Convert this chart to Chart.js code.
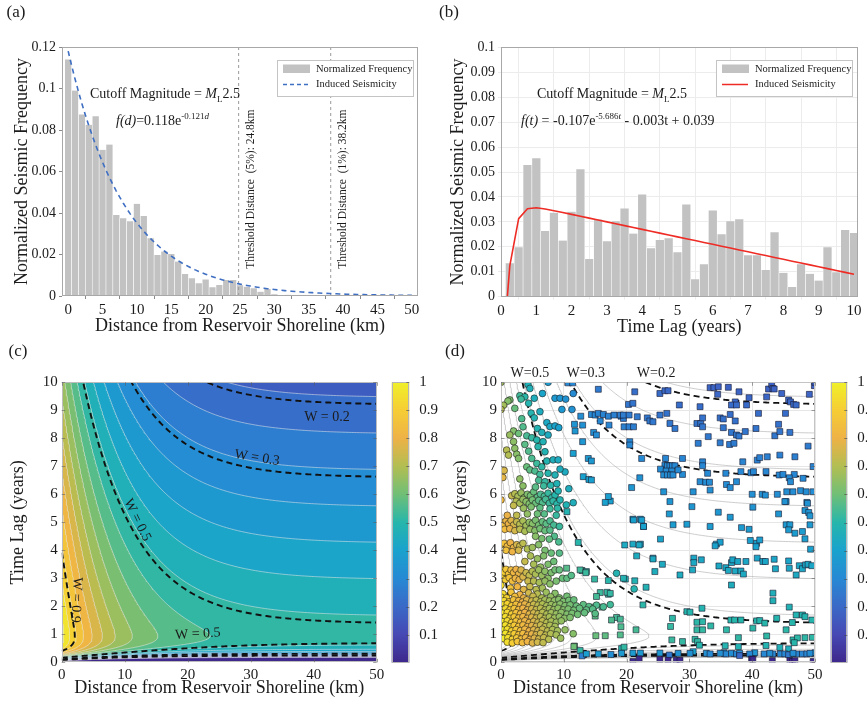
<!DOCTYPE html>
<html>
<head>
<meta charset="utf-8">
<title>Reservoir-induced seismicity: distance and time-lag weighting</title>
<script src="https://cdn.jsdelivr.net/npm/chart.js@4.4.1/dist/chart.umd.min.js"></script>
<style>
  html, body { margin: 0; padding: 0; background: #ffffff; }
  #page { position: relative; width: 867px; height: 703px; overflow: hidden; background: #fff; }
  #page canvas { position: absolute; left: 0; top: 0; }
</style>
</head>
<body>
<div id="page">
  <canvas id="histDist" width="867" height="703"></canvas>
  <canvas id="histLag" width="867" height="703"></canvas>
  <canvas id="mapW" width="867" height="703"></canvas>
  <canvas id="barW" width="867" height="703"></canvas>
  <canvas id="mapEvents" width="867" height="703"></canvas>
  <canvas id="barEvents" width="867" height="703"></canvas>
</div>
<script>
// ---------------- (a) frequency vs distance from shoreline ----------------
const distBins = [0,1,2,3,4,5,6,7,8,9,10,11,12,13,14,15,16,17,18,19,20,21,22,23,24,25,26,27,28,29,30,31,32,33,34,35];
const distFreq = [0.114,0.099,0.0875,0.0825,0.0866,0.0705,0.073,0.039,0.0375,0.036,0.0444,0.0386,0.0278,0.0198,0.0214,0.0203,
                  0.0166,0.0106,0.0085,0.0061,0.008,0.0042,0.0053,0.0077,0.0077,0.0052,0.0045,0.0037,0.0021,0.0034,0.0008,0.0003,
                  0.0006,0.0005,0,0];
const distTicks = [0,5,10,15,20,25,30,35,40,45,50];
const distFreqTicks = [0,0.02,0.04,0.06,0.08,0.1,0.12];
const distFit = [0.118, 0.121];                 // f(d) = 0.118 e^(-0.121 d)
const thresholdDist = [24.8, 38.2];
const thresholdText = ['Threshold Distance  (5%): 24.8km', 'Threshold Distance  (1%): 38.2km'];

// ---------------- (b) frequency vs time lag ----------------
const lagBins = [0.25,0.5,0.75,1,1.25,1.5,1.75,2,2.25,2.5,2.75,3,3.25,3.5,3.75,4,4.25,4.5,4.75,5,
                 5.25,5.5,5.75,6,6.25,6.5,6.75,7,7.25,7.5,7.75,8,8.25,8.5,8.75,9,9.25,9.5,9.75,10];
const lagFreq = [0.0134,0.0198,0.0528,0.0555,0.0263,0.0337,0.0225,0.0341,0.0511,0.0151,0.031,0.0222,0.0303,0.0354,0.0253,0.041,
                 0.0194,0.0227,0.0234,0.0178,0.037,0.007,0.013,0.0346,0.025,0.0303,0.0311,0.0166,0.0166,0.0107,0.0258,0.0096,
                 0.0039,0.013,0.0092,0.0065,0.0198,0.0098,0.0267,0.0255];
const lagTicks = [0,1,2,3,4,5,6,7,8,9,10];
const lagFreqTicks = [0,0.01,0.02,0.03,0.04,0.05,0.06,0.07,0.08,0.09,0.1];
const lagFit = [-0.107, 5.686, -0.003, 0.039];  // f(t) = -0.107 e^(-5.686 t) - 0.003 t + 0.039

// ---------------- (c)/(d) weighting index W(d, t) ----------------
const W_SPLIT = [0.5, 0.5];                     // distance share, time-lag share
const LAG_SPAN = [-0.0042, 0.0348];             // f(t) values mapped to 0 and 1
const mapDistTicks = [0,10,20,30,40,50];
const mapLagTicks = [0,1,2,3,4,5,6,7,8,9,10];
const colorbarTicks = [0.1,0.2,0.3,0.4,0.5,0.6,0.7,0.8,0.9,1];
const thinLevels = [0.04,0.09,0.14,0.19,0.24,0.29,0.34,0.39,0.44,0.49,0.54,0.59,0.64,0.69,0.74,0.79,0.84,0.89,0.94,0.99];
const keyLevels = [0.2,0.3,0.5,0.9];

// earthquakes plotted in (d): [distance km, time lag years]
const nearFieldEvents = [
 [0,10],[4.3,9.92],[4.6,9.78],[7.5,10],[6.6,9.6],[3.0,9.52],[3.8,9.48],[3.2,9.4],[1.4,9.37],[1.1,9.33],[0.4,9.18],[0,9.03],
 [2.2,9.07],[5.3,9.43],[4.4,9.25],[8.6,9.43],[9.4,9.43],[10.3,9.4],[9.7,9.03],[11.3,9.03],[11.5,9.6],[4.8,8.9],[6.2,8.95],
 [3.3,8.7],[5.3,8.73],[7.3,8.56],[7.8,8.42],[8.6,8.44],[9.2,8.38],[5.8,8.35],[6.5,8.21],[3.5,8.41],[2.0,8.26],[1.4,8.12],
 [2.8,8.17],[4.1,8.09],[4.9,8.02],[5.7,7.94],[6.7,7.88],[7.5,8.12],[2.0,7.88],[2.2,7.64],[3.8,7.78],[4.4,7.54],[5.9,7.7],
 [7.0,7.52],[2.5,7.43],[2.8,7.28],[4.9,7.28],[5.7,7.1],[6.5,6.98],[7.3,7.19],[8.3,7.23],[9.1,7.23],[4.1,6.98],[4.6,6.87],
 [5.4,6.83],[6.2,6.71],[7.5,6.75],[8.6,6.69],[10.2,6.8],[0.9,7.58],[1.2,7.4],[0.3,6.6],[0.5,6.85],[6.0,6.5],[7.0,6.45],
 [3.0,6.55],[9.4,6.9],
 [0,5.8],[1.7,5.95],[2.2,6.02],[2.7,5.93],[3.2,6.05],[3.7,5.88],[4.2,6.0],[4.7,5.95],[5.2,6.09],[5.8,5.9],[6.3,6.0],[6.9,5.93],
 [7.5,6.04],[8.1,5.88],[8.6,5.97],[9.1,6.12],[2.4,5.75],[3.0,5.68],[3.5,5.82],[4.0,5.74],[4.5,5.66],[5.0,5.8],[5.5,5.68],[6.0,5.78],
 [6.6,5.7],[7.1,5.82],[7.7,5.68],[8.3,5.76],[8.9,5.66],[9.4,5.8],[11.5,5.7],[10.4,5.62],[6.8,6.3],[7.9,6.32],[8.9,6.38],[3.5,6.3],
 [5.5,6.26],[4.8,5.55],[6.2,5.52],[7.8,5.48],[9.0,5.5],[10.8,6.2],[2.0,5.6],[3.6,5.5],
 [0,5.0],[0.4,4.88],[0.8,5.05],[1.2,4.95],[1.6,5.07],[2.0,4.9],[2.5,5.02],[3.0,4.93],[3.5,5.05],[4.0,4.88],[4.5,5.0],[5.0,4.95],
 [5.5,5.07],[6.0,4.9],[6.6,5.02],[7.2,4.95],[7.8,5.05],[8.4,4.9],[0.6,4.75],[1.4,4.77],[2.2,4.7],[3.0,4.75],[3.8,4.68],[4.6,4.75],
 [5.4,4.7],[6.2,4.77],[7.0,4.7],[7.8,4.72],[1.0,5.25],[2.5,5.25],[4.2,5.3],[5.8,5.3],[6.9,5.3],[8.8,5.25],[9.3,4.85],[8.5,4.5],
 [9.2,4.3],[7.7,4.4],[6.5,4.42],[5.5,4.5],
 [0,4.2],[0.5,4.25],[1.0,4.15],[1.5,4.27],[2.0,4.1],[2.5,4.2],[3.0,4.15],[3.5,4.25],[0.8,4.0],[1.8,3.95],[2.8,4.0],[4.2,4.05],
 [5.0,4.1],[6.0,4.2],[7.0,4.0],[4.7,3.8],[5.8,3.7],[6.8,3.8],[8.0,3.9],[3.8,3.6],[5.2,3.5],[6.3,3.4],[7.5,3.5],[8.4,3.6],[9.3,3.9],
 [0,3.3],[0.4,3.2],[0.8,3.32],[1.2,3.15],[1.6,3.3],[2.0,3.2],[2.4,3.32],[2.8,3.15],[3.2,3.3],[0.2,3.0],[0.7,2.95],[1.3,3.02],
 [1.8,2.9],[2.3,3.0],[2.9,2.95],[3.5,3.05],[4.0,3.2],[4.5,3.1],[5.0,3.25],[5.5,3.15],[6.0,3.3],[6.5,3.1],[7.0,3.25],[7.5,3.0],
 [8.0,3.2],[8.6,3.3],[9.3,3.3],[4.3,2.9],[5.2,2.9],[6.1,2.85],[7.0,2.9],[7.8,2.8],[8.8,2.9],[9.8,3.0],[10.5,3.0],[11.2,3.1],
 [0,2.75],[2.6,2.7],[4.6,2.7],[5.6,2.6],[6.6,2.65],[3.6,2.6],[1.5,2.65],[18.4,3.18],[21.2,2.62],
 [0.3,2.45],[1.6,2.5],[3.0,2.42],[4.4,2.48],[5.8,2.44],[7.2,2.5],[8.6,2.46],
 [0,2.33],[0.9,2.3],[2.2,2.35],[3.6,2.3],[5.1,2.36],[6.5,2.3],[7.9,2.34],[9.3,2.3],[10.5,2.36],
 [0.5,2.2],[1.3,2.16],[2.0,2.23],[2.8,2.2],[3.4,2.15],[4.1,2.23],[4.9,2.19],[5.6,2.22],[6.3,2.16],[7.0,2.23],[7.7,2.19],
 [8.5,2.2],[9.2,2.24],[9.9,2.17],[10.8,2.21],[11.6,2.23],
 [0.3,2.05],[1.0,2.09],[1.7,2.02],[2.4,2.07],[3.1,2.03],[3.8,2.08],[4.5,2.02],[5.2,2.07],[5.9,2.04],[6.6,2.08],[7.3,2.02],
 [8.0,2.06],[8.7,2.03],[9.4,2.08],[10.2,2.02],[11.0,2.05],[12.0,2.01],[13.1,2.06],[14.0,1.99],[15.2,2.04],[16.3,1.98],[17.4,2.06],
 [0,1.9],[0.7,1.93],[1.4,1.87],[2.1,1.92],[2.8,1.88],[3.5,1.93],[4.2,1.87],[4.9,1.91],[5.6,1.88],[6.3,1.93],[7.0,1.87],
 [7.7,1.92],[8.4,1.88],[9.1,1.93],[9.9,1.87],[10.7,1.9],[11.6,1.86],[12.5,1.93],[13.6,1.87],[14.6,1.9],
 [0.3,1.75],[1.0,1.78],[1.7,1.72],[2.4,1.77],[3.1,1.73],[3.8,1.78],[4.5,1.72],[5.2,1.76],[5.9,1.73],[6.6,1.78],[7.3,1.72],
 [8.0,1.77],[8.8,1.73],[9.6,1.78],[10.5,1.72],[11.3,1.75],[12.2,1.71],[13.3,1.77],[15.0,1.74],
 [0,1.6],[0.7,1.63],[1.4,1.57],[2.1,1.62],[2.8,1.58],[3.5,1.63],[4.2,1.57],[4.9,1.61],[5.6,1.58],[6.3,1.63],[7.0,1.57],
 [7.7,1.62],[8.5,1.58],[9.3,1.63],[10.1,1.57],[11.0,1.6],
 [0.3,1.45],[1.0,1.48],[1.7,1.42],[2.4,1.47],[3.1,1.43],[3.8,1.48],[4.5,1.42],[5.2,1.46],[5.9,1.43],[6.6,1.48],[7.3,1.42],
 [8.0,1.47],[8.8,1.43],[9.6,1.48],
 [0,1.3],[0.7,1.33],[1.4,1.27],[2.1,1.32],[2.8,1.28],[3.5,1.33],[4.2,1.27],[4.9,1.31],[5.6,1.28],[6.3,1.33],[7.0,1.27],
 [7.8,1.32],[8.6,1.28],
 [0.3,1.15],[1.0,1.18],[1.7,1.12],[2.4,1.17],[3.1,1.13],[3.8,1.18],[4.5,1.12],[5.2,1.16],[5.9,1.13],[6.6,1.18],[7.4,1.12],
 [8.2,1.17],[9.0,1.13],[10.2,1.16],
 [0,1.0],[0.7,1.03],[1.4,0.97],[2.1,1.02],[2.8,0.98],[3.5,1.03],[4.2,0.97],[4.9,1.01],[5.6,0.98],[6.3,1.03],[7.1,0.97],
 [7.9,1.02],[8.8,0.98],[11.5,1.02],
 [0.4,0.85],[1.1,0.88],[1.8,0.82],[2.5,0.87],[3.2,0.83],[3.9,0.88],[4.6,0.82],[5.3,0.86],[6.0,0.83],[6.8,0.88],[7.6,0.82],[9.5,0.86],
 [1.0,0.72],[1.8,0.69],[2.6,0.74],[3.4,0.7],[4.2,0.74],[5.0,0.69],[5.8,0.72],[6.7,0.7]
];
const farFieldEvents = [
 [10.7,9.98],[11.4,9.98],[15.5,9.75],[12.7,8.79],[14.4,8.85],[15.0,8.83],[15.5,8.89],[16.3,8.85],[17.1,8.79],[18.0,8.83],
 [19.1,8.79],[19.5,8.71],[11.7,8.5],[13.0,8.47],[15.8,8.62],[17.2,8.47],[11.8,8.26],[14.75,8.21],[15.2,8.12],[13.0,7.88],
 [11.5,7.46],[13.9,7.28],[14.4,7.19],[13.1,6.63],[14.0,6.53],[14.4,6.51],
 [21.3,9.66],[25.3,9.6],[26.1,9.7],[26.6,9.7],[28.4,9.19],[31.7,9.13],[33.3,9.81],[33.9,9.81],[34.6,9.84],[36.2,9.82],
 [34.5,9.57],[37.9,9.66],[37.3,9.3],[36.7,9.19],[37.5,9.19],[39.5,9.45],[39.1,9.19],[41.0,8.89],[42.3,9.48],[42.6,9.76],
 [43.1,9.93],[43.3,9.78],[43.5,9.76],[44.7,9.6],[45.8,9.37],[46.1,9.3],[46.6,9.21],[47.0,9.19],[45.3,8.89],[49.1,9.57],
 [49.9,9.88],[50,10.0],
 [19.0,8.83],[19.5,8.83],[20.4,8.83],[20.3,9.21],[21.0,9.25],[19.6,8.41],[20.4,8.41],[21.1,8.41],[21.7,8.77],[23.3,8.73],
 [23.7,8.62],[24.2,8.59],[25.3,8.83],[26.4,8.89],[26.9,8.53],[27.7,8.35],[31.2,8.53],[31.8,8.53],[32.1,8.41],[32.1,8.73],
 [34.9,8.73],[35.4,8.69],[36.5,8.85],[37.3,8.62],[35.4,8.38],[36.7,8.21],[37.5,8.12],[37.9,8.08],[38.9,8.24],[40.6,8.35],
 [33.0,8.06],[31.4,7.82],[34.9,7.84],[36.4,7.78],[37.1,7.82],[44.2,8.5],[43.6,8.09],[44.4,8.24],[46.0,8.21],[48.9,7.72],
 [20.5,7.88],[20.5,7.76],[22.4,7.28],[26.2,7.28],[28.9,7.28],
 [26.1,7.04],[26.5,7.02],[26.9,7.02],[27.3,7.02],[27.7,7.02],[25.4,6.9],[26.3,6.83],[27.2,6.83],[25.9,6.69],[26.5,6.69],
 [27.0,6.69],[27.4,6.69],[28.9,6.71],[28.2,6.87],[22.1,6.59],[32.1,7.16],[32.1,7.02],[32.9,6.75],[31.7,6.45],[32.6,6.43],
 [33.2,6.43],[35.8,6.75],[35.9,6.35],[36.5,6.24],[37.5,6.45],[38.2,6.81],[38.5,7.16],[39.8,6.77],[40.2,6.81],[40.8,7.22],
 [41.2,7.31],[42.2,6.81],[42.4,7.34],[44.4,7.4],[44.3,6.69],[44.9,6.71],[46.7,6.71],[45.9,6.59],[46.1,6.45],[48.1,6.57],
 [46.8,7.34],[49.7,6.99],[20.8,6.24],[25.9,6.09],[30.6,6.09],[33.3,6.15],[40.0,6.0],[41.6,6.0],[42.1,5.97],[44.0,6.0],
 [45.5,6.09],[46.5,6.09],[47.7,6.13],[48.6,6.09],[49.7,6.09],[45.4,5.74],[48.7,5.71],[26.9,5.74],[17.4,5.76],[16.6,5.71],[17.1,5.92],
 [30.4,5.56],[40.1,5.54],[45.2,5.74],[48.8,5.68],[26.8,5.3],[34.6,5.36],[36.5,5.18],[44.2,5.3],[48.4,5.42],[49.0,5.35],
 [49.2,5.23],[21.0,5.11],[22.2,5.11],[22.7,4.85],[27.4,4.91],[29.6,4.93],[33.3,4.85],[38.3,4.81],[39.5,4.75],[45.4,4.91],
 [46.0,4.91],[45.8,4.73],[46.8,4.61],[48.0,4.67],[49.2,4.91],[25.4,4.4],[21.0,4.22],[22.2,4.22],[34.3,4.22],[34.9,4.29],
 [34.1,4.16],[39.7,4.35],[40.7,4.25],[40.6,4.13],[41.2,4.37],[48.4,4.41],[49.3,4.04],[21.6,3.8],[24.2,3.72],[25.7,3.5],
 [24.5,3.24],[28.5,3.12],[30.5,3.3],[30.7,3.72],[30.7,3.56],[31.9,3.66],[34.7,3.44],[35.8,3.38],[36.2,3.28],[36.7,3.56],
 [36.9,3.66],[37.7,3.6],[39.0,3.6],[37.3,3.26],[38.2,3.26],[38.6,3.15],[40.8,3.72],[41.7,3.6],[42.1,3.6],[43.5,3.68],
 [43.7,3.34],[45.8,3.62],[45.9,3.36],[47.0,3.12],[47.5,3.45],[48.0,3.34],[48.5,3.48],[48.9,3.5],[49.5,3.45],[19.8,2.97],
 [21.3,2.91],[23.1,2.68],[36.7,2.76],[43.3,2.47],[43.3,2.2],[45.9,1.97],[10.5,5.38],[12.3,4.28],[10.45,3.36],[12.9,3.28],
 [13.6,3.24],[14.9,2.97],[15.8,2.49],[17.1,2.43],[19.5,3.0],[12.6,3.3],[13.5,3.2],[17.1,2.92],[16.9,2.5],[17.4,2.46],
 [15.2,2.35],[22.6,2.05],[21.1,5.08],[22.4,5.08],[19.7,4.19],[22.0,4.19],[24.2,3.69],[22.7,4.85],
 [32.0,1.93],[29.6,1.81],[30.1,1.79],[27.3,1.57],[27.0,1.28],[31.2,1.43],[32.1,1.45],[33.4,1.3],[31.2,1.16],[32.1,1.16],
 [35.9,1.16],[36.6,1.51],[37.2,1.51],[38.2,1.51],[40.7,1.48],[41.2,1.49],[42.0,1.4],[43.9,1.57],[40.1,1.22],[45.4,1.16],
 [46.4,1.42],[48.0,1.69],[48.4,1.63],[47.0,1.69],[49.5,1.51],[21.5,1.16],[19.0,0.98],[27.2,0.8],[28.9,0.74],[30.9,0.82],
 [31.3,0.74],[37.8,0.88],[42.3,0.94],[46.5,0.8],[47.2,0.87],[48.4,0.88],[49.6,0.89],[31.6,0.61],[35.7,0.59],[37.8,0.56],
 [42.2,0.6],[44.4,0.53],[45.8,0.48],[46.7,0.7],[19.2,0.49],[15.0,1.65],[18.4,1.6],[19.1,1.27],[15.1,0.95],[16.6,0.95],
 [11.7,0.58],[12.6,0.42],[19.6,0.54],[17.6,1.51],[19.0,1.54],[11.6,0.56],[14.7,1.97],[16.1,1.97],
 [21.0,0.33],[22.2,0.33],[25.3,0.33],[26.8,0.26],[30.6,0.38],[35.5,0.34],[35.8,0.3],[40.4,0.34],[41.9,0.3],[43.3,0.3],
 [44.5,0.3],[45.2,0.3],[45.8,0.27],[47.1,0.3],[48.0,0.3],[50.0,0.34],[28.2,0.32],[30.1,0.32],[32.7,0.32],[33.3,0.3],
 [34.9,0.32],[36.7,0.32],[37.5,0.3],[38.0,0.32],[39.6,0.3],[42.8,0.32],[46.5,0.32],[48.7,0.3],[49.2,0.32],[12.9,0.23],
 [13.6,0.3],[15.5,0.3],[17.5,0.28],[19.2,0.32],
 [21.0,0.03],[22.0,0.12],[25.3,0.1],[26.6,0.07],[27.9,0.07],[28.5,0.07],[38.0,0.24],[39.9,0.12],[43.2,0.06],[46.0,0.06],
 [46.4,0.03],[46.8,0.06],[49.7,0.03],[40.1,0.1]
];

// colour scale for the weighting index (stop, r, g, b)
const colorStops = [
 [0.00, 62, 40,140],[0.10, 70, 72,180],[0.20, 58,105,200],[0.30, 38,137,212],[0.40, 25,162,205],[0.50, 38,182,172],
 [0.60,112,191,118],[0.70,178,190, 82],[0.80,238,178, 70],[0.90,246,205, 52],[1.00,240,240, 40]
];

// ---------------- helpers ----------------
const SERIF = "'Liberation Serif', 'Times New Roman', Times, serif";
const INK = '#1b1b1b';
Chart.defaults.font.family = SERIF;
Chart.defaults.color = INK;

function cmapRGB(v) {
  v = Math.max(0, Math.min(1, v));
  for (let i = 1; i < colorStops.length; i++) {
    if (v <= colorStops[i][0]) {
      const a = colorStops[i - 1], b = colorStops[i];
      const f = (v - a[0]) / (b[0] - a[0]);
      return [1, 2, 3].map(k => Math.round(a[k] + (b[k] - a[k]) * f));
    }
  }
  return colorStops[colorStops.length - 1].slice(1);
}
const cmapCss = v => { const c = cmapRGB(v); return `rgb(${c[0]},${c[1]},${c[2]})`; };

const fDist = d => distFit[0] * Math.exp(-distFit[1] * d);
const fLag = t => lagFit[0] * Math.exp(-lagFit[1] * t) + lagFit[2] * t + lagFit[3];
const lagTerm = t => (fLag(t) - LAG_SPAN[0]) / (LAG_SPAN[1] - LAG_SPAN[0]);
const wIndex = (d, t) => W_SPLIT[0] * Math.exp(-distFit[1] * d) + W_SPLIT[1] * lagTerm(t);

// colour of the filled band a value falls in
function bandValue(w) {
  if (w < thinLevels[0]) return w < 0 ? 0 : thinLevels[0] / 2;
  const step = thinLevels[1] - thinLevels[0];
  const k = Math.floor((w - thinLevels[0]) / step);
  return Math.min(1, thinLevels[0] + (k + 0.5) * step);
}

// iso-lines of W: for every time lag solve the distance where W equals the level
function contourPaths(level) {
  const paths = [];
  let cur = null, last = null, pend = null;
  const close = () => {
    if (cur) { if (pend && pend !== last) cur.push(pend); if (cur.length > 1) paths.push(cur); }
    cur = last = pend = null;
  };
  for (let i = 0; i <= 50000; i++) {
    const t = i * 0.0002;
    const r = (level - W_SPLIT[1] * lagTerm(t)) / W_SPLIT[0];
    if (!(r > 0 && r <= 1)) { close(); continue; }
    const d = -Math.log(r) / distFit[1];
    if (d > 70) { close(); continue; }
    const p = {x: d, y: t};
    if (!cur) { cur = [p]; last = p; pend = null; continue; }
    const dx = (d - last.x) * 6.3, dy = (t - last.y) * 28;
    if (dx * dx + dy * dy >= 2) { cur.push(p); last = p; pend = null; } else pend = p;
  }
  close();
  return paths;
}
const thinPaths = thinLevels.map(contourPaths);
const keyPaths = keyLevels.map(contourPaths);

function lineSets(pathsList, style) {
  const out = [];
  pathsList.forEach(paths => paths.forEach(p => out.push(Object.assign({
    type: 'scatter', data: p, showLine: true, pointRadius: 0, pointHoverRadius: 0, fill: false, tension: 0,
    parsing: false
  }, style))));
  return out;
}

function richText(ctx, x, y, parts, size) {
  ctx.save();
  ctx.textBaseline = 'alphabetic';
  ctx.fillStyle = INK;
  let cx = x;
  for (const p of parts) {
    const s = (p.sub || p.sup) ? size * 0.64 : size;
    ctx.font = `${p.i ? 'italic ' : ''}${s}px ${SERIF}`;
    const dy = p.sub ? size * 0.28 : (p.sup ? -size * 0.42 : 0);
    ctx.fillText(p.t, cx, y + dy);
    cx += ctx.measureText(p.t).width;
  }
  ctx.restore();
}

function text(ctx, str, x, y, size, opts = {}) {
  ctx.save();
  ctx.translate(x, y);
  if (opts.rot) ctx.rotate(opts.rot * Math.PI / 180);
  ctx.font = `${opts.italic ? 'italic ' : ''}${size}px ${SERIF}`;
  ctx.fillStyle = opts.color || INK;
  ctx.textAlign = opts.align || 'center';
  ctx.textBaseline = 'middle';
  ctx.fillText(str, 0, 0);
  ctx.restore();
}

function fixedTicks(list) { return s => { s.ticks = list.map(v => ({value: v})); }; }
const fmt = v => String(Math.round(v * 1000) / 1000);

function frame(color, inward) {
  return {
    id: 'frame',
    afterDraw(chart) {
      const {ctx, chartArea: a, scales} = chart;
      ctx.save();
      ctx.strokeStyle = color;
      ctx.lineWidth = 1;
      ctx.strokeRect(Math.round(a.left) + 0.5, Math.round(a.top) + 0.5,
                     Math.round(a.right) - Math.round(a.left) - 1, Math.round(a.bottom) - Math.round(a.top) - 1);
      if (inward) {
        ctx.strokeStyle = 'rgba(90,90,90,0.55)';
        ctx.beginPath();
        scales.x.ticks.forEach(t => {
          const px = Math.round(scales.x.getPixelForValue(t.value)) + 0.5;
          ctx.moveTo(px, a.bottom); ctx.lineTo(px, a.bottom - 3.5);
          ctx.moveTo(px, a.top); ctx.lineTo(px, a.top + 3.5);
        });
        scales.y.ticks.forEach(t => {
          const py = Math.round(scales.y.getPixelForValue(t.value)) + 0.5;
          ctx.moveTo(a.left, py); ctx.lineTo(a.left + 3.5, py);
          ctx.moveTo(a.right, py); ctx.lineTo(a.right - 3.5, py);
        });
        ctx.stroke();
      }
      ctx.restore();
    }
  };
}

function legendBox(ctx, x, y, entries) {
  ctx.save();
  ctx.fillStyle = '#fff';
  ctx.fillRect(x, y, 136, 36);
  ctx.strokeStyle = '#c4c4c4';
  ctx.lineWidth = 1;
  ctx.strokeRect(x + 0.5, y + 0.5, 136, 36);
  entries.forEach((e, i) => {
    const cy = y + 9 + i * 15;
    if (e.kind === 'bar') {
      ctx.fillStyle = e.color;
      ctx.fillRect(x + 6, cy - 4.5, 27, 8.5);
    } else {
      ctx.strokeStyle = e.color;
      ctx.lineWidth = 1.5;
      ctx.setLineDash(e.dash || []);
      ctx.beginPath(); ctx.moveTo(x + 6, cy + 0.5); ctx.lineTo(x + 32, cy + 0.5); ctx.stroke();
      ctx.setLineDash([]);
    }
    ctx.fillStyle = INK;
    ctx.font = `10.5px ${SERIF}`;
    ctx.textBaseline = 'middle';
    ctx.textAlign = 'left';
    ctx.fillText(e.label, x + 39, cy + 0.5);
  });
  ctx.restore();
}

const baseOptions = () => ({
  responsive: false, animation: false, devicePixelRatio: 1, events: [],
  plugins: {legend: {display: false}, tooltip: {enabled: false}}
});

const tickFont = {size: 15, family: SERIF};
const freqTickFont = {size: 14, family: SERIF};
const titleFont = {size: 18, family: SERIF};

// ---------------- chart (a) ----------------
const distCurve = [];
for (let d = 0; d <= 50.0001; d += 0.5) distCurve.push({x: d, y: fDist(d)});

new Chart(document.getElementById('histDist'), {
  type: 'bar',
  data: {
    datasets: [
      {type: 'line', data: distCurve, borderColor: '#3f6fc2', borderWidth: 1.6, borderDash: [5, 4],
       pointRadius: 0, fill: false, order: 0},
      ...thresholdDist.map(v => ({type: 'line', data: [{x: v, y: 0}, {x: v, y: 0.12}], borderColor: '#9a9a9a',
       borderWidth: 1, borderDash: [3, 3], pointRadius: 0, fill: false, order: 1})),
      {type: 'bar', data: distBins.map((x, i) => ({x, y: distFreq[i]})), backgroundColor: '#c2c2c2',
       borderColor: 'rgba(255,255,255,0.85)', borderWidth: {left: 0.6, right: 0.6, top: 0, bottom: 0},
       borderSkipped: false, barPercentage: 1, categoryPercentage: 1, order: 2}
    ]
  },
  options: Object.assign(baseOptions(), {
    layout: {padding: {left: 11, top: 47, right: 449, bottom: 366.2}},
    scales: {
      x: {type: 'linear', min: -0.9, max: 50.9, offset: false,
          afterBuildTicks: fixedTicks(distTicks),
          afterFit: s => { s.height = 40.8; s.paddingLeft = 0; s.paddingRight = 0; },
          grid: {display: true, drawOnChartArea: false, drawTicks: true, tickLength: 3, color: '#8a8a8a'},
          border: {display: false},
          ticks: {font: tickFont, color: INK, padding: 2, maxRotation: 0, autoSkip: false, callback: fmt},
          title: {display: true, text: 'Distance from Reservoir Shoreline (km)', font: titleFont, color: INK, padding: 0}},
      y: {type: 'linear', min: 0, max: 0.12,
          afterBuildTicks: fixedTicks(distFreqTicks),
          afterFit: s => { s.width = 51; s.paddingTop = 0; s.paddingBottom = 0; },
          grid: {display: true, drawOnChartArea: false, drawTicks: true, tickLength: 3, color: '#8a8a8a'},
          border: {display: false},
          ticks: {font: freqTickFont, color: INK, padding: 3, autoSkip: false, callback: fmt},
          title: {display: true, text: 'Normalized Seismic Frequency', font: titleFont, color: INK, padding: 0}}
    }
  }),
  plugins: [frame('#a8a8a8', false), {
    id: 'notesA',
    afterDraw(chart) {
      const {ctx, scales: {x, y}} = chart;
      text(ctx, '(a)', 16, 13, 17);
      text(ctx, '(c)', 18, 352, 17);
      thresholdDist.forEach((v, i) => {
        text(ctx, thresholdText[i], x.getPixelForValue(v) + 12, y.getPixelForValue(0.0515), 11.5, {rot: -90});
      });
      richText(ctx, 90, 98, [{t: 'Cutoff Magnitude = '}, {t: 'M', i: true}, {t: 'L', sub: true}, {t: '2.5'}], 14);
      richText(ctx, 116, 125, [{t: 'f(d)', i: true}, {t: '=0.118e'}, {t: '-0.121', sup: true}, {t: 'd', sup: true, i: true}], 14);
      legendBox(ctx, 277, 60, [
        {kind: 'bar', color: '#c2c2c2', label: 'Normalized Frequency'},
        {kind: 'line', color: '#3f6fc2', dash: [4, 3], label: 'Induced Seismicity'}
      ]);
    }
  }]
});

// ---------------- chart (b) ----------------
let lagRoot = 0.05, hi = 1;
for (let k = 0; k < 60; k++) { const m = (lagRoot + hi) / 2; if (fLag(m) < 0) lagRoot = m; else hi = m; }
const lagCurve = [{x: lagRoot, y: 0}, ...lagBins.map(t => ({x: t, y: fLag(t)}))];

new Chart(document.getElementById('histLag'), {
  type: 'bar',
  data: {
    datasets: [
      {type: 'line', data: lagCurve, borderColor: '#ee2b24', borderWidth: 1.6, pointRadius: 0, fill: false, order: 0},
      {type: 'bar', data: lagBins.map((x, i) => ({x, y: lagFreq[i]})), backgroundColor: '#c2c2c2',
       borderColor: 'rgba(255,255,255,0.85)', borderWidth: {left: 0.6, right: 0.6, top: 0, bottom: 0},
       borderSkipped: false, barPercentage: 1, categoryPercentage: 1, order: 1}
    ]
  },
  options: Object.assign(baseOptions(), {
    layout: {padding: {left: 447, top: 47.3, right: 9.5, bottom: 365.3}},
    scales: {
      x: {type: 'linear', min: 0, max: 10.1, offset: false,
          afterBuildTicks: fixedTicks(lagTicks),
          afterFit: s => { s.height = 41; s.paddingLeft = 0; s.paddingRight = 0; },
          grid: {display: true, drawOnChartArea: true, drawTicks: true, tickLength: 3, color: '#ececec'},
          border: {display: false},
          ticks: {font: tickFont, color: INK, padding: 2, maxRotation: 0, autoSkip: false, callback: fmt},
          title: {display: true, text: 'Time Lag (years)', font: titleFont, color: INK, padding: 0}},
      y: {type: 'linear', min: 0, max: 0.1,
          afterBuildTicks: fixedTicks(lagFreqTicks),
          afterFit: s => { s.width = 54; s.paddingTop = 0; s.paddingBottom = 0; },
          grid: {display: true, drawOnChartArea: true, drawTicks: true, tickLength: 3, color: '#ececec'},
          border: {display: false},
          ticks: {font: freqTickFont, color: INK, padding: 3, autoSkip: false, callback: fmt},
          title: {display: true, text: 'Normalized Seismic Frequency', font: titleFont, color: INK, padding: 0}}
    }
  }),
  plugins: [frame('#a8a8a8', false), {
    id: 'notesB',
    afterDraw(chart) {
      const {ctx} = chart;
      text(ctx, '(b)', 449, 13, 17);
      text(ctx, '(d)', 455, 352, 17);
      richText(ctx, 537, 98, [{t: 'Cutoff Magnitude = '}, {t: 'M', i: true}, {t: 'L', sub: true}, {t: '2.5'}], 14);
      richText(ctx, 521, 125, [{t: 'f(t)', i: true}, {t: ' = -0.107e'}, {t: '-5.686', sup: true}, {t: 't', sup: true, i: true},
                               {t: ' - 0.003t + 0.039'}], 14);
      legendBox(ctx, 716, 60, [
        {kind: 'bar', color: '#c2c2c2', label: 'Normalized Frequency'},
        {kind: 'line', color: '#ee2b24', label: 'Induced Seismicity'}
      ]);
    }
  }]
});

// ---------------- chart (c) ----------------
const fieldFill = {
  id: 'fieldFill',
  beforeDatasetsDraw(chart) {
    const {ctx, chartArea: a, scales: {x, y}} = chart;
    const x0 = Math.round(a.left), y0 = Math.round(a.top);
    const w = Math.round(a.right) - x0, h = Math.round(a.bottom) - y0;
    const img = ctx.createImageData(w, h);
    const eD = [];
    for (let i = 0; i < w; i++) eD.push(Math.exp(-distFit[1] * x.getValueForPixel(x0 + i + 0.5)));
    for (let j = 0; j < h; j++) {
      const lt = W_SPLIT[1] * lagTerm(y.getValueForPixel(y0 + j + 0.5));
      for (let i = 0; i < w; i++) {
        const c = cmapRGB(bandValue(W_SPLIT[0] * eD[i] + lt));
        const o = (j * w + i) * 4;
        img.data[o] = c[0]; img.data[o + 1] = c[1]; img.data[o + 2] = c[2]; img.data[o + 3] = 255;
      }
    }
    ctx.putImageData(img, x0, y0);
  }
};

const mapScales = (cfg) => ({
  x: {type: 'linear', min: 0, max: 50,
      afterBuildTicks: fixedTicks(mapDistTicks),
      afterFit: s => { s.height = 36.5; s.paddingLeft = 0; s.paddingRight = 0; },
      grid: {display: true, drawOnChartArea: cfg.grid, drawTicks: false, color: '#e6e6e6'},
      border: {display: false},
      ticks: {font: tickFont, color: INK, padding: 4, maxRotation: 0, autoSkip: false},
      title: {display: true, text: 'Distance from Reservoir Shoreline (km)', font: titleFont, color: INK, padding: 0}},
  y: {type: 'linear', min: 0, max: 10,
      afterBuildTicks: fixedTicks(mapLagTicks),
      afterFit: s => { s.width = cfg.w; s.paddingTop = 0; s.paddingBottom = 0; },
      grid: {display: true, drawOnChartArea: cfg.grid, drawTicks: false, color: '#e6e6e6'},
      border: {display: false},
      ticks: {font: tickFont, color: INK, padding: 4, autoSkip: false},
      title: {display: true, text: 'Time Lag (years)', font: titleFont, color: INK, padding: 0}}
});

new Chart(document.getElementById('mapW'), {
  type: 'scatter',
  data: {
    datasets: [
      ...lineSets(keyPaths, {borderColor: '#111', borderWidth: 1.9, borderDash: [6, 4], order: 0}),
      ...lineSets(thinPaths, {borderColor: 'rgba(230,230,230,0.7)', borderWidth: 0.8, order: 1})
    ]
  },
  options: Object.assign(baseOptions(), {
    layout: {padding: {left: 7, top: 382.3, right: 490.3, bottom: 4.2}},
    scales: mapScales({w: 54.7, grid: false})
  }),
  plugins: [fieldFill, frame('#bdbdbd', true), {
    id: 'labelsC',
    afterDraw(chart) {
      const {ctx, scales: {x, y}} = chart;
      const at = (d, t) => [x.getPixelForValue(d), y.getPixelForValue(t)];
      let p;
      p = at(42.1, 8.76); text(ctx, 'W = 0.2', p[0], p[1], 14);
      p = at(31.0, 7.3);  text(ctx, 'W = 0.3', p[0], p[1], 14, {rot: 9});
      p = at(12.0, 5.08); text(ctx, 'W = 0.5', p[0], p[1], 14, {rot: 64});
      p = at(21.6, 1.01); text(ctx, 'W = 0.5', p[0], p[1], 14, {rot: -3});
      p = at(2.3, 2.23);  text(ctx, 'W = 0.9', p[0], p[1], 14, {rot: 93});
    }
  }]
});

// ---------------- colour bars ----------------
function colorBar(id, pad, width) {
  new Chart(document.getElementById(id), {
    type: 'scatter',
    data: {datasets: []},
    options: Object.assign(baseOptions(), {
      layout: {padding: pad},
      scales: {
        x: {display: false, min: 0, max: 1},
        y: {type: 'linear', position: 'right', min: 0, max: 1,
            afterBuildTicks: fixedTicks(colorbarTicks),
            afterFit: s => { s.width = width; s.paddingTop = 0; s.paddingBottom = 0; },
            grid: {display: false}, border: {display: false},
            ticks: {font: tickFont, color: INK, padding: 2, autoSkip: false, callback: fmt}}
      }
    }),
    plugins: [{
      id: 'ramp',
      beforeDatasetsDraw(chart) {
        const {ctx, chartArea: a, scales: {y}} = chart;
        const g = ctx.createLinearGradient(0, a.bottom, 0, a.top);
        for (let v = 0; v <= 1.0001; v += 0.02) g.addColorStop(Math.min(1, v), cmapCss(v));
        ctx.save();
        ctx.fillStyle = g;
        ctx.fillRect(a.left, a.top, a.right - a.left, a.bottom - a.top);
        ctx.strokeStyle = '#b5b5b5';
        ctx.lineWidth = 1;
        ctx.strokeRect(Math.round(a.left) + 0.5, Math.round(a.top) + 0.5,
                       Math.round(a.right) - Math.round(a.left) - 1, Math.round(a.bottom) - Math.round(a.top) - 1);
        ctx.strokeStyle = 'rgba(70,70,70,0.6)';
        ctx.beginPath();
        colorbarTicks.forEach(v => {
          const py = Math.round(y.getPixelForValue(v)) + 0.5;
          ctx.moveTo(a.right - 3, py); ctx.lineTo(a.right, py);
        });
        ctx.stroke();
        ctx.restore();
      }
    }]
  });
}
colorBar('barW', {left: 391.7, top: 382.3, right: 417.7, bottom: 40.3}, 40);
colorBar('barEvents', {left: 830.7, top: 382.3, right: 0, bottom: 40.3}, 19.7);

// ---------------- chart (d) ----------------
const eventColor = ctx => cmapCss(wIndex(ctx.raw.x, ctx.raw.y));
const toXY = list => list.map(([x, y]) => ({x, y}));

new Chart(document.getElementById('mapEvents'), {
  type: 'scatter',
  data: {
    datasets: [
      {data: toXY(nearFieldEvents), pointStyle: 'circle', pointRadius: 3.4, pointBorderWidth: 0.7,
       pointBorderColor: 'rgba(30,30,30,0.85)', pointBackgroundColor: eventColor, order: 0},
      {data: toXY(farFieldEvents), pointStyle: 'rect', pointRadius: 4.2, pointBorderWidth: 0.7,
       pointBorderColor: 'rgba(25,25,45,0.85)', pointBackgroundColor: eventColor, order: 1},
      ...lineSets(keyPaths, {borderColor: '#111', borderWidth: 1.8, borderDash: [6, 4], order: 2}),
      ...lineSets(thinPaths, {borderColor: 'rgba(175,175,175,0.8)', borderWidth: 0.8, order: 3})
    ]
  },
  options: Object.assign(baseOptions(), {
    layout: {padding: {left: 450, top: 382.3, right: 52, bottom: 4.2}},
    scales: mapScales({w: 51, grid: true})
  }),
  plugins: [frame('#c4c4c4', true), {
    id: 'labelsD',
    afterDraw(chart) {
      const {ctx, chartArea: a, scales: {x}} = chart;
      text(ctx, 'W=0.5', x.getPixelForValue(4.6), a.top - 9, 14);
      text(ctx, 'W=0.3', x.getPixelForValue(13.5), a.top - 9, 14);
      text(ctx, 'W=0.2', x.getPixelForValue(24.7), a.top - 9, 14);
    }
  }]
});
</script>
</body>
</html>
